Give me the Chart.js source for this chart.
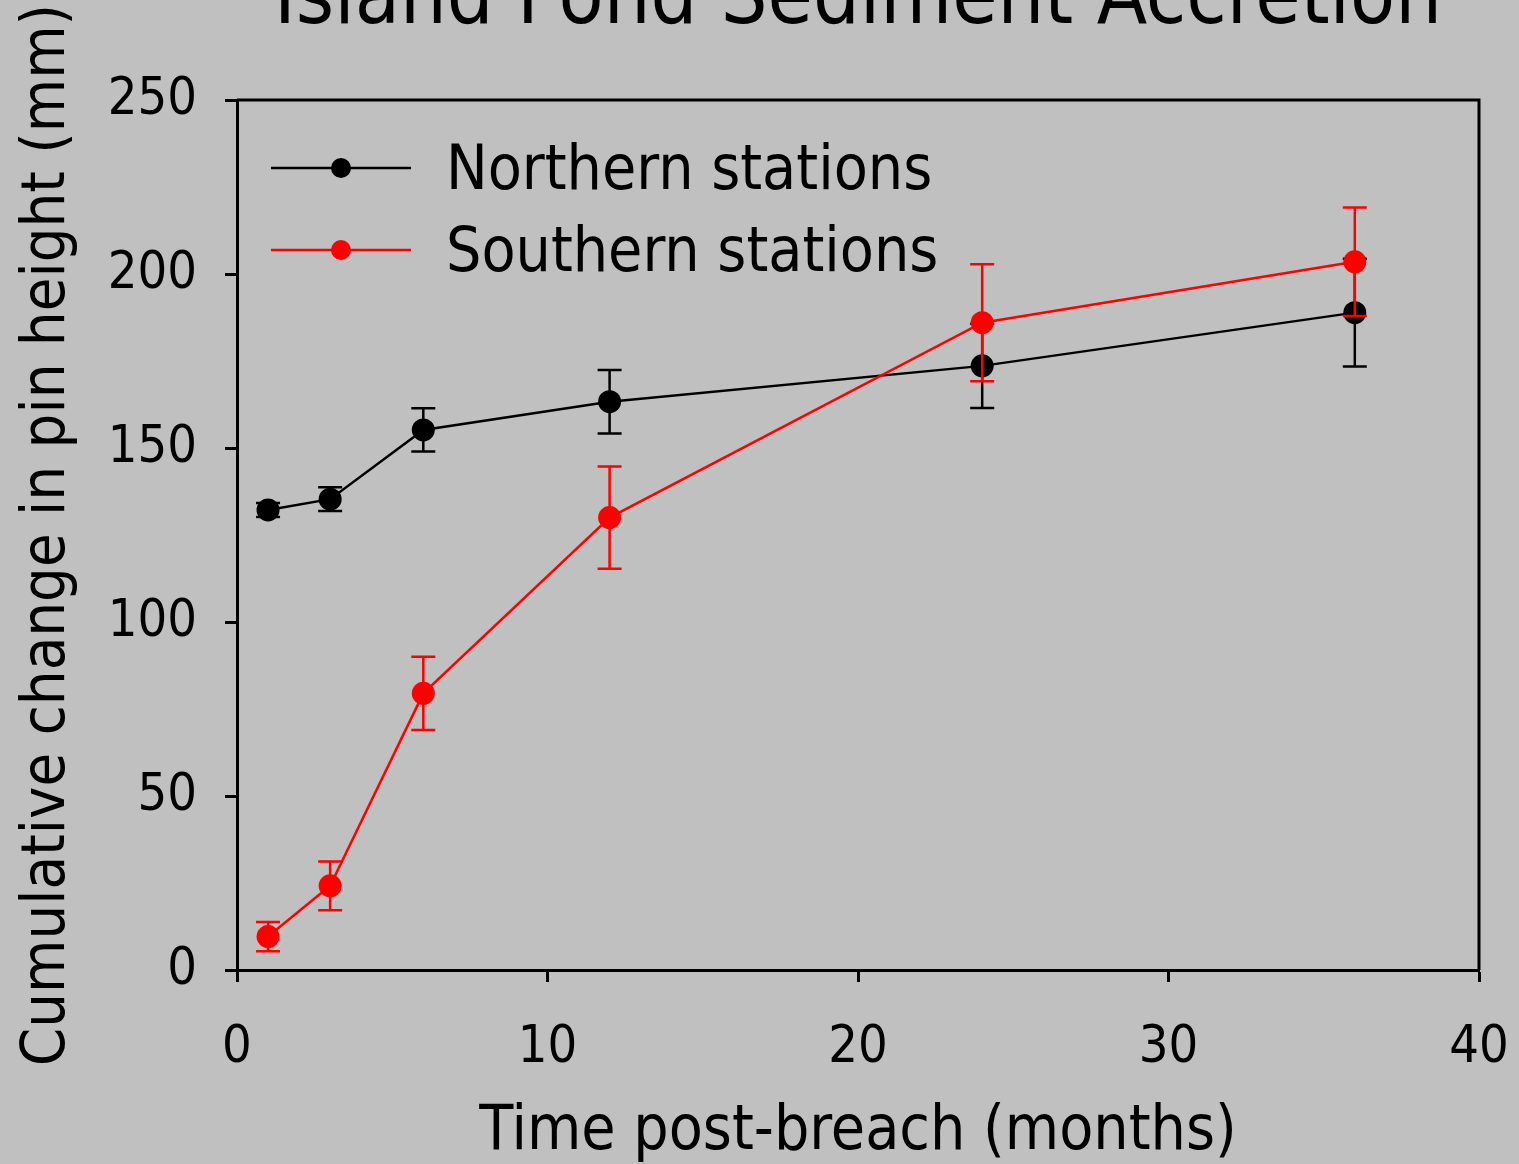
<!DOCTYPE html>
<html>
<head>
<meta charset="utf-8">
<title>Island Pond Sediment Accretion</title>
<script src="https://cdn.jsdelivr.net/npm/chart.js@4.4.1/dist/chart.umd.min.js"></script>
<style>
  html, body { margin: 0; padding: 0; background: #c0c0c0; overflow: hidden; }
  #wrap { position: relative; width: 1519px; height: 1164px; overflow: hidden; }
  /* the canvas sits a little above the page so the title runs off the top edge */
  #chart { position: absolute; left: 0; top: -60px; }
</style>
</head>
<body>
<div id="wrap"><canvas id="chart" width="1519" height="1224"></canvas></div>
<script>
// Time since breach (months)
const months = [1, 3, 6, 12, 24, 36];

// Mean cumulative change in pin height (mm) and its error (±mm)
const northern = [132.2, 135.3, 155.2, 163.3, 173.6, 188.9];
const northernErr = [2.0, 3.4, 6.2, 9.1, 12.1, 15.5];
const southern = [9.6, 24.2, 79.5, 130.0, 186.0, 203.5];
const southernErr = [4.2, 7.0, 10.5, 14.7, 16.8, 15.6];

const seriesNames = ['Northern stations', 'Southern stations'];
const seriesColors = ['#000000', '#ff0000'];

const xTicks = [0, 10, 20, 30, 40];
const yTicks = [0, 50, 100, 150, 200, 250];

const FONT = "'DejaVu Sans Condensed', 'DejaVu Sans', sans-serif";
Chart.defaults.font.family = FONT;
Chart.defaults.color = '#000';

const toPoints = (vals) => months.map((m, i) => ({ x: m, y: vals[i] }));

// Legend sample: a short line with a marker in the middle,
// sitting slightly above the label's centre line
function legendSample(color) {
  const c = document.createElement('canvas');
  c.width = 150; c.height = 40;
  const g = c.getContext('2d');
  const y = 15;
  g.strokeStyle = color; g.lineWidth = 2.5;
  g.beginPath(); g.moveTo(10, y); g.lineTo(150, y); g.stroke();
  g.fillStyle = color;
  g.beginPath(); g.arc(80, y, 10, 0, Math.PI * 2); g.fill();
  return c;
}

// Vertical error bars with caps, drawn just before each series so the
// later series sits on top of the earlier one.
const errorBars = {
  id: 'errorBars',
  beforeDatasetDraw(chart, args) {
    const ds = chart.data.datasets[args.index];
    if (!ds.errors) return;
    const { ctx } = chart;
    const xs = chart.scales.x, ys = chart.scales.y;
    ctx.save();
    ctx.strokeStyle = ds.borderColor;
    ctx.lineWidth = 2.5;
    const cap = 12;
    ds.data.forEach((p, i) => {
      const e = ds.errors[i];
      const px = xs.getPixelForValue(p.x);
      const top = ys.getPixelForValue(p.y + e);
      const bot = ys.getPixelForValue(p.y - e);
      ctx.beginPath();
      ctx.moveTo(px, top); ctx.lineTo(px, bot);
      ctx.moveTo(px - cap, top); ctx.lineTo(px + cap, top);
      ctx.moveTo(px - cap, bot); ctx.lineTo(px + cap, bot);
      ctx.stroke();
    });
    ctx.restore();
  }
};

// Closes the plot box along the top and right edges
const plotFrame = {
  id: 'plotFrame',
  beforeDatasetsDraw(chart) {
    const { ctx, chartArea: a } = chart;
    ctx.save();
    ctx.strokeStyle = '#000';
    ctx.lineWidth = 3;
    ctx.beginPath();
    ctx.moveTo(a.left, a.top); ctx.lineTo(a.right, a.top); ctx.lineTo(a.right, a.bottom);
    ctx.stroke();
    ctx.restore();
  }
};

// Keeps the in-plot legend anchored to the top-left corner of the plot area
const legendInPlot = {
  id: 'legendInPlot',
  afterLayout(chart) {
    const lg = chart.legend, a = chart.chartArea;
    if (!lg) return;
    lg.left = a.left;
    lg.top = a.top;
    lg.right = a.right;
    lg.bottom = a.bottom;
  }
};

new Chart(document.getElementById('chart'), {
  type: 'line',
  data: {
    datasets: [
      {
        label: seriesNames[0],
        data: toPoints(northern),
        errors: northernErr,
        borderColor: seriesColors[0],
        backgroundColor: seriesColors[0],
        borderWidth: 2.5,
        pointRadius: 11.5,
        pointBorderWidth: 0,
        pointHoverRadius: 11.5,
        tension: 0,
        order: 1
      },
      {
        label: seriesNames[1],
        data: toPoints(southern),
        errors: southernErr,
        borderColor: seriesColors[1],
        backgroundColor: seriesColors[1],
        borderWidth: 2.5,
        pointRadius: 11.5,
        pointBorderWidth: 0,
        pointHoverRadius: 11.5,
        tension: 0,
        order: 0
      }
    ]
  },
  options: {
    responsive: false,
    animation: false,
    devicePixelRatio: 1,
    events: [],
    layout: { padding: { left: 0, right: 40, top: 0, bottom: 0 } },
    plugins: {
      title: {
        display: true,
        fullSize: false,
        text: 'Island Pond Sediment Accretion',
        color: '#000',
        font: { size: 82, weight: 'normal', lineHeight: 1 },
        padding: { top: 21, bottom: 57 }
      },
      legend: {
        position: 'chartArea',
        align: 'start',
        title: { display: true, text: ' ', font: { size: 22, lineHeight: 1 }, padding: 0 },
        labels: {
          usePointStyle: true,
          pointStyleWidth: 158,
          padding: 20,
          color: '#000',
          font: { size: 62 },
          generateLabels(chart) {
            return chart.data.datasets.map((ds, i) => ({
              text: ds.label,
              fillStyle: ds.borderColor,
              strokeStyle: ds.borderColor,
              fontColor: '#000',
              lineWidth: 0,
              pointStyle: legendSample(ds.borderColor),
              datasetIndex: i,
              hidden: false
            }));
          }
        }
      },
      tooltip: { enabled: false }
    },
    scales: {
      x: {
        type: 'linear',
        min: 0, max: 40,
        afterBuildTicks(scale) { scale.ticks = xTicks.map(v => ({ value: v })); },
        afterFit(scale) { scale.height = 194; },
        grid: { drawOnChartArea: false, drawTicks: true, tickLength: 12, tickWidth: 3, tickColor: '#000' },
        border: { display: true, color: '#000', width: 3 },
        // labels are pushed down by the tall line box rather than by padding
        ticks: { color: '#000', padding: 0, font: { size: 52, lineHeight: 2.54 }, maxRotation: 0 },
        title: {
          display: true,
          text: 'Time post-breach (months)',
          color: '#000',
          font: { size: 62, lineHeight: 1 },
          padding: { top: 0, bottom: 0 }
        }
      },
      y: {
        type: 'linear',
        min: 0, max: 250,
        afterBuildTicks(scale) { scale.ticks = yTicks.map(v => ({ value: v })); },
        afterFit(scale) { scale.width = 237; },
        grid: { drawOnChartArea: false, drawTicks: true, tickLength: 12, tickWidth: 3, tickColor: '#000' },
        border: { display: true, color: '#000', width: 3 },
        ticks: { color: '#000', padding: 28, font: { size: 52, lineHeight: 1 } },
        title: {
          display: true,
          text: 'Cumulative change in pin height (mm)',
          color: '#000',
          font: { size: 61, lineHeight: 1 },
          padding: { top: 18, bottom: 0 }
        }
      }
    }
  },
  plugins: [errorBars, plotFrame, legendInPlot]
});
</script>
</body>
</html>
